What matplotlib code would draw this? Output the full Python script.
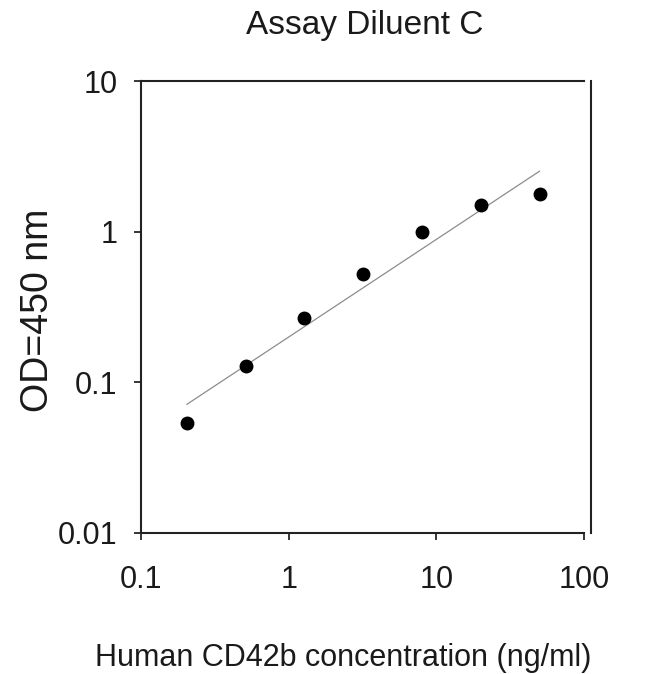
import matplotlib
matplotlib.use('Agg')
import matplotlib.pyplot as plt

# standard curve points
conc = [0.2048, 0.512, 1.28, 3.2, 8, 20, 50]
od = [0.054, 0.128, 0.266, 0.523, 0.994, 1.50, 1.78]
# fitted line (log-log, straight), end points
fit_x = [0.2048, 50]
fit_y = [0.0715, 2.52]

xticks = [0.1, 1, 10, 100]
xtick_labels = ['0.1', '1', '10', '100']
yticks = [0.01, 0.1, 1, 10]
ytick_labels = ['0.01', '0.1', '1', '10']

plt.rcParams['font.family'] = ['Liberation Sans', 'DejaVu Sans']
txt = '#1a1a1a'

fig = plt.figure(figsize=(6.5, 6.74), dpi=100)
ax = fig.add_axes([0.2169, 0.2092, 0.6815, 0.6706])

ax.plot(fit_x, fit_y, color='#8c8c8c', lw=0.9)
ax.plot(conc, od, 'o', color='black', ms=9)

ax.set_xscale('log')
ax.set_yscale('log')
ax.set_xlim(0.1, 100)
ax.set_ylim(0.01, 10)
ax.set_xticks(xticks)
ax.set_xticklabels(xtick_labels)
ax.set_yticks(yticks)
ax.set_yticklabels(ytick_labels)
ax.minorticks_off()
ax.tick_params(axis='x', direction='out', length=5, width=1.1, pad=18,
               labelsize=22, labelcolor=txt)
ax.tick_params(axis='y', direction='out', length=5, width=1.1, pad=12,
               labelsize=22, labelcolor=txt)

for s in ax.spines.values():
    s.set_linewidth(1.5)
    s.set_color('#222222')
ax.spines['right'].set_position(('outward', 5))

ax.set_title('Assay Diluent C', fontsize=24, color=txt, x=0.506, y=1.086)
ax.set_xlabel('Human CD42b concentration (ng/ml)', fontsize=22, color=txt,
              va='center')
ax.xaxis.set_label_coords(0.457, -0.276)
ax.set_ylabel('OD=450 nm', fontsize=27, color=txt, va='center')
ax.yaxis.set_label_coords(-0.232, 0.493)

fig.savefig('out.png', dpi=100)
